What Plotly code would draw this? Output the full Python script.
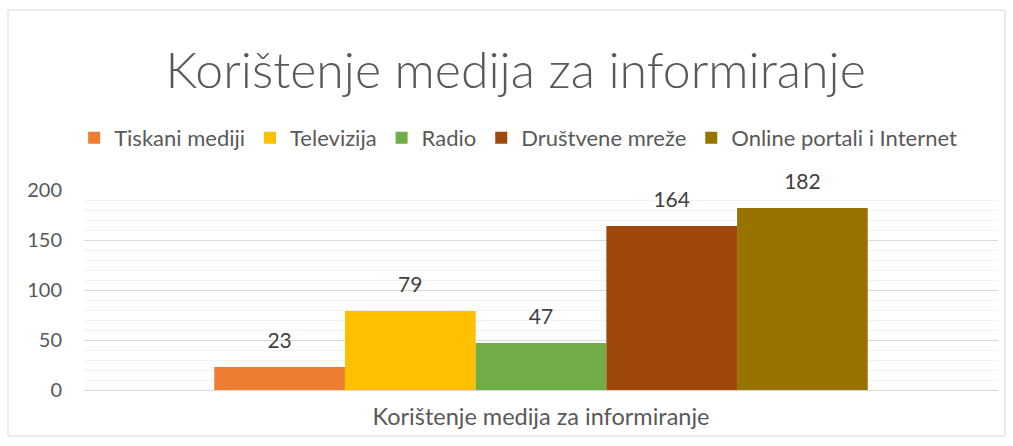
import plotly.graph_objects as go

categories = ["Korištenje medija za informiranje"]
series_names = ["Tiskani mediji", "Televizija", "Radio", "Društvene mreže", "Online portali i Internet"]
series_values = [23, 79, 47, 164, 182]
colors = ["#ED7D31", "#FFC000", "#70AD47", "#9E480E", "#997300"]

FONT = "Lato"
fig = go.Figure()
for i, (name, val, col) in enumerate(zip(series_names, series_values, colors)):
    fig.add_trace(go.Bar(
        x=categories, y=[val], name=name, offsetgroup=str(i),
        marker=dict(color=col, line=dict(width=0)),
    ))
for i, val in enumerate(series_values):
    fig.add_trace(go.Scatter(
        x=categories, y=[val], mode="markers+text", text=[str(val)], textposition="top center",
        offsetgroup=str(i), showlegend=False, hoverinfo="skip", cliponaxis=False,
        marker=dict(size=21, color="rgba(0,0,0,0)"),
        textfont=dict(family=FONT, size=21, color="#404040"),
    ))

fig.update_layout(
    width=1013, height=446,
    margin=dict(l=84, r=15, t=190, b=56),
    paper_bgcolor="white", plot_bgcolor="white",
    barmode="group", scattermode="group", bargap=0.285, bargroupgap=0,
    title=dict(text="Korištenje medija za informiranje", x=0.509, xanchor="center",
               y=1 - 70 / 446, yanchor="middle",
               font=dict(family=FONT, size=50, color="#595959", weight=300)),
    legend=dict(orientation="h", x=0.475, xanchor="center", y=1 - 138 / 446, yref="container",
                yanchor="middle", font=dict(family=FONT, size=22, color="#595959"),
                itemwidth=30, traceorder="normal"),
    showlegend=True,
)
fig.update_yaxes(range=[0, 200], dtick=50, showgrid=True, gridcolor="#D9D9D9", gridwidth=1,
                 zeroline=False, showline=False, ticks="",
                 tickfont=dict(family=FONT, size=20, color="#595959"),
                 ticklabelstandoff=21,
                 minor=dict(dtick=10, showgrid=True, gridcolor="#F2F2F2", gridwidth=1))
fig.update_xaxes(showline=True, linecolor="#D9D9D9", linewidth=1, ticks="",
                 tickfont=dict(family=FONT, size=23.5, color="#595959"), ticklabelstandoff=6)
fig.add_shape(type="rect", xref="paper", yref="paper",
              x0=(8 - 84) / 914, x1=(1005 - 84) / 914,
              y0=-(436 - 390) / 200, y1=1 + (190 - 10) / 200,
              line=dict(color="#D9D9D9", width=1), fillcolor="rgba(0,0,0,0)", layer="below")
fig.write_html("out.html", config={"displayModeBar": False},
               post_script="document.body.style.margin='0';")
